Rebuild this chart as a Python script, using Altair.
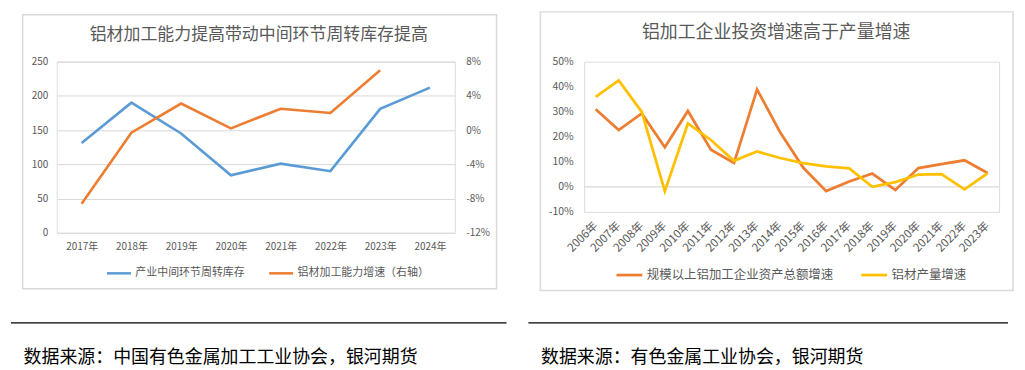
import altair as alt
import pandas as pd

FONT = "Noto Sans CJK SC"
GRAY = "#595959"

# ---------------- data ----------------
years_left = ["2017年", "2018年", "2019年", "2020年", "2021年", "2022年", "2023年", "2024年"]
inventory = [131, 190, 145, 84, 101, 90, 181, 212]
capacity_years = ["2017年", "2018年", "2019年", "2020年", "2021年", "2022年", "2023年"]
capacity_growth = [-0.086, -0.003, 0.031, 0.002, 0.025, 0.020, 0.070]

years_right = ["2006年", "2007年", "2008年", "2009年", "2010年", "2011年", "2012年",
               "2013年", "2014年", "2015年", "2016年", "2017年", "2018年", "2019年",
               "2020年", "2021年", "2022年", "2023年"]
invest_growth = [0.310, 0.227, 0.293, 0.158, 0.303, 0.148, 0.095, 0.389, 0.218,
                 0.077, -0.017, 0.021, 0.053, -0.013, 0.075, 0.091, 0.106, 0.055]
output_growth = [0.359, 0.425, 0.299, -0.017, 0.253, 0.187, 0.104, 0.141, 0.115,
                 0.095, 0.082, 0.074, 0.000, 0.019, 0.049, 0.051, -0.010, 0.054]

left_title = "铝材加工能力提高带动中间环节周转库存提高"
right_title = "铝加工企业投资增速高于产量增速"
left_series = ["产业中间环节周转库存", "铝材加工能力增速（右轴）"]
right_series = ["规模以上铝加工企业资产总额增速", "铝材产量增速"]
left_source = "数据来源：中国有色金属加工工业协会，银河期货"
right_source = "数据来源：有色金属工业协会，银河期货"

left_ticks = [0, 50, 100, 150, 200, 250]
left_right_ticks = [-0.12, -0.08, -0.04, 0.0, 0.04, 0.08]
right_ticks = [-0.1, 0.0, 0.1, 0.2, 0.3, 0.4, 0.5]

PCT = "(datum.value < 0 ? '-' : '') + format(abs(datum.value), '.0%')"

# page coordinates of the two plot areas
OX1, OY1, W1, H1 = 56, 60, 400, 172
OX2, OY2, W2, H2 = 586, 60, 417, 151


def deco_layers(ox, oy, box, title, title_xy, title_size, source, rule_x):
    one = pd.DataFrame({"k": [0]})
    border = alt.Chart(one).mark_rect(fillOpacity=0, stroke="#D9D9D9", strokeWidth=1.5).encode(
        x=alt.value(box[0] - ox), x2=alt.value(box[2] - ox),
        y=alt.value(box[1] - oy), y2=alt.value(box[3] - oy))
    ttl = alt.Chart(pd.DataFrame({"t": [title]})).mark_text(
        align="center", baseline="middle", fontSize=title_size, color=GRAY, font=FONT).encode(
        x=alt.value(title_xy[0] - ox), y=alt.value(title_xy[1] - oy), text="t:N")
    rule = alt.Chart(one).mark_rule(color="#000000", strokeWidth=1.3).encode(
        x=alt.value(rule_x[0] - ox), x2=alt.value(rule_x[1] - ox), y=alt.value(322.5 - oy))
    src = alt.Chart(pd.DataFrame({"t": [source]})).mark_text(
        align="left", baseline="middle", fontSize=18, color="#000000", font=FONT).encode(
        x=alt.value(rule_x[2] - ox), y=alt.value(358 - oy), text="t:N")
    return [border, ttl, rule, src]


# ---------------- left panel ----------------
df_inv = pd.DataFrame({"year": years_left, "value": inventory, "series": left_series[0]})
df_cap = pd.DataFrame({"year": capacity_years, "value": capacity_growth, "series": left_series[1]})

# invisible frame that fixes the chart origin at the page margin
frame = alt.Chart(pd.DataFrame({"k": [0]})).mark_rect(opacity=0).encode(
    x=alt.value(8 - OX1), x2=alt.value(1020 - OX1), y=alt.value(8 - OY1), y2=alt.value(366 - OY1))

color_l = alt.Color("series:N", scale=alt.Scale(domain=left_series, range=["#5B9BD5", "#ED7D31"]),
                    legend=alt.Legend(orient="none", legendX=105 - OX1, legendY=259 - OY1,
                                      direction="horizontal", title=None, symbolType="stroke",
                                      symbolStrokeWidth=2.5, symbolSize=576, labelFontSize=11,
                                      labelColor=GRAY, labelFont=FONT, labelOffset=3,
                                      columnPadding=19, padding=0, labelLimit=300))
x_l = alt.X("year:N", sort=years_left, title=None,
            axis=alt.Axis(labelAngle=0, domain=False, ticks=False, labelFontSize=10,
                          labelColor=GRAY, labelFont=FONT, labelPadding=9))

blue = alt.Chart(df_inv).mark_line(strokeWidth=2.6).encode(
    x=x_l,
    y=alt.Y("value:Q", title=None, scale=alt.Scale(domain=[0, 250], nice=False),
            axis=alt.Axis(orient="left", values=left_ticks, grid=True, gridColor="#D9D9D9",
                          domain=False, ticks=False, labelPadding=9, labelFontSize=10,
                          labelColor=GRAY, labelFont=FONT)),
    color=color_l)
orange = alt.Chart(df_cap).mark_line(strokeWidth=2.6).encode(
    x=x_l,
    y=alt.Y("value:Q", title=None, scale=alt.Scale(domain=[-0.12, 0.08], nice=False),
            axis=alt.Axis(orient="right", values=left_right_ticks, grid=False, domain=False,
                          ticks=False, labelPadding=11, labelFontSize=10, labelColor=GRAY,
                          labelFont=FONT, labelExpr=PCT)),
    color=color_l)

left = alt.layer(
    frame,
    *deco_layers(OX1, OY1, (21.7, 13, 498, 288.3), left_title, (259, 33), 17, left_source,
                 (10, 508, 22.7)),
    blue, orange
).resolve_scale(y="independent").properties(width=W1, height=H1)

# ---------------- right panel ----------------
df_r = pd.concat([
    pd.DataFrame({"year": years_right, "value": invest_growth, "series": right_series[0]}),
    pd.DataFrame({"year": years_right, "value": output_growth, "series": right_series[1]}),
])

color_r = alt.Color("series:N", scale=alt.Scale(domain=right_series, range=["#ED7D31", "#FFC000"]),
                    legend=alt.Legend(orient="none", legendX=617 - OX2, legendY=260 - OY2,
                                      direction="horizontal", title=None, symbolType="stroke",
                                      symbolStrokeWidth=2.75, symbolSize=676, labelFontSize=12.5,
                                      labelColor=GRAY, labelFont=FONT, labelOffset=3,
                                      columnPadding=22, padding=0, labelLimit=400))

y_r_axis = alt.Axis(orient="left", values=right_ticks, grid=False, domain=False,
                    ticks=False, labelPadding=11, labelFontSize=10.5, labelColor=GRAY,
                    labelFont=FONT, labelExpr=PCT)
y_r_scale = alt.Scale(domain=[-0.1, 0.5], nice=False)

zero = alt.Chart(pd.DataFrame({"value": [0.0]})).mark_rule(color="#D9D9D9", strokeWidth=1.3).encode(
    y=alt.Y("value:Q", title=None, scale=y_r_scale, axis=y_r_axis))

lines_r = alt.Chart(df_r).mark_line(strokeWidth=2.75).encode(
    x=alt.X("year:N", sort=years_right, title=None,
            axis=alt.Axis(labelAngle=-45, labelAlign="right", labelBaseline="middle",
                          domain=False, ticks=False, labelFontSize=11.5, labelColor=GRAY,
                          labelFont=FONT, labelPadding=12)),
    y=alt.Y("value:Q", title=None, scale=y_r_scale, axis=y_r_axis),
    color=color_r, order=alt.Order("series:N"))

right = alt.layer(
    *deco_layers(OX2, OY2, (542, 10, 1017, 290), right_title, (779, 31), 18, right_source,
                 (530, 1012, 542.7)),
    zero, lines_r
).properties(width=W2, height=H2)

chart = alt.hconcat(left, right, spacing=OX2 - OX1 - W1, bounds="flush").resolve_scale(
    color="independent").properties(padding=0).configure_view(strokeWidth=0).configure(
    font=FONT)

chart.save("out.html", embed_options={"renderer": "svg", "actions": False})
